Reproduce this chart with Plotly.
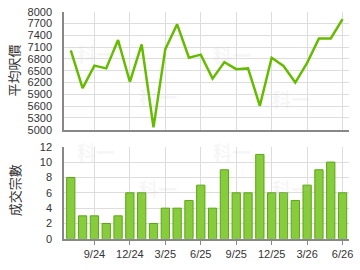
import plotly.graph_objects as go

months = ["7/24","8/24","9/24","10/24","11/24","12/24","1/25","2/25","3/25","4/25","5/25","6/25",
          "7/25","8/25","9/25","10/25","11/25","12/25","1/26","2/26","3/26","4/26","5/26","6/26"]
avg_price = [7020, 6060, 6630, 6560, 7280, 6220, 7170, 5060, 7050, 7680, 6830, 6910,
             6300, 6720, 6540, 6560, 5610, 6830, 6620, 6200, 6700, 7320, 7320, 7810]
volume = [8, 3, 3, 2, 3, 6, 6, 2, 4, 4, 5, 7, 4, 9, 6, 6, 11, 6, 6, 5, 7, 9, 10, 6]
tick_labels = ["9/24", "12/24", "3/25", "6/25", "9/25", "12/25", "3/26", "6/26"]
title_top = "平均呎價"
title_bottom = "成交宗數"
watermark = "科一"

idx = list(range(len(months)))
tickvals = [months.index(t) for t in tick_labels]

fig = go.Figure()
fig.add_trace(go.Scatter(x=idx, y=avg_price, mode="lines", xaxis="x", yaxis="y",
                         line=dict(color="#66bb00", width=2.5), hoverinfo="skip"))
fig.add_trace(go.Bar(x=idx, y=volume, xaxis="x2", yaxis="y2", width=0.7,
                     marker=dict(color="#86cc3c", line=dict(color="#5ca614", width=1)),
                     hoverinfo="skip"))

font = dict(family="Liberation Sans, Arial, sans-serif", size=11, color="#333333")
tfont = dict(family="Noto Sans CJK TC", size=13, color="#333333")
xr = [-0.55, 23.55]
xcommon = dict(range=xr, tickvals=tickvals, showgrid=True, gridcolor="#dddddd", gridwidth=1,
               showline=True, linecolor="#888888", linewidth=2, zeroline=False, fixedrange=True)

annotations = [
    dict(text=title_top, textangle=-90, x=14/360, y=1-67.75/270, xref="paper", yref="paper",
         showarrow=False, font=tfont, xanchor="center", yanchor="middle"),
    dict(text=title_bottom, textangle=-90, x=15/360, y=1-193/270, xref="paper", yref="paper",
         showarrow=False, font=tfont, xanchor="center", yanchor="middle"),
]
for (px, py) in [(76, 33), (160, 95), (235, 35), (315, 97), (76, 152), (160, 207), (235, 152), (315, 207)]:
    annotations.append(dict(text="<b>" + watermark + "</b>", x=px/360, y=1-py/270, xref="paper", yref="paper",
                            showarrow=False, font=dict(family="Noto Sans CJK TC", size=19, color="rgba(200,200,200,0.16)")))

fig.update_layout(
    width=360, height=270, margin=dict(l=0, r=0, t=0, b=0),
    paper_bgcolor="white", plot_bgcolor="white", showlegend=False, font=font,
    annotations=annotations,
    xaxis=dict(domain=[65/360, 353/360], anchor="y", showticklabels=False, ticks="", **xcommon),
    yaxis=dict(domain=[1-129.5/270, 1-6/270], anchor="x", range=[5000, 8000], dtick=300,
               tick0=5000, showgrid=True, gridcolor="#dddddd", showline=True, linecolor="#888888",
               linewidth=2, zeroline=False, ticklabelstandoff=8, tickfont=font),
    xaxis2=dict(domain=[65/360, 353/360], anchor="y2", ticktext=tick_labels, ticks="outside",
                ticklen=4, tickcolor="#888888", tickfont=font, **xcommon),
    yaxis2=dict(domain=[1-243.7/270, 1-147.3/270], anchor="x2", range=[0, 12], dtick=2,
                showgrid=True, gridcolor="#dddddd", showline=True, linecolor="#888888",
                linewidth=2, zeroline=False, ticklabelstandoff=8, tickfont=font),
)
fig.write_html("out.html")
